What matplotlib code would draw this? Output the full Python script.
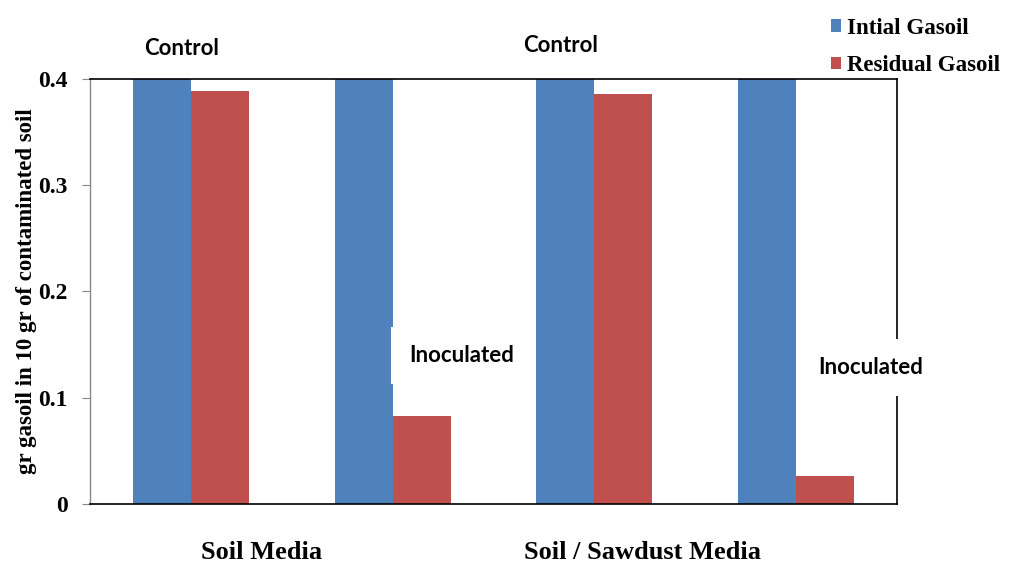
import numpy as np
import matplotlib.pyplot as plt

groups = ['Control', 'Inoculated', 'Control', 'Inoculated']
media = ['Soil Media', 'Soil / Sawdust Media']
initial = [0.4, 0.4, 0.4, 0.4]
residual = [0.389, 0.083, 0.386, 0.026]

blue = '#4F81BD'
red = '#C0504D'
serif = 'Liberation Serif'

fig = plt.figure(figsize=(10.09, 5.63), dpi=100)
ax = fig.add_axes([0.0892, 0.1048, 0.7998, 0.7549])

x = np.arange(len(groups))
w = 0.287
ax.bar(x - w / 2, initial, w, color=blue, label='Intial Gasoil', zorder=2)
ax.bar(x + w / 2, residual, w, color=red, label='Residual Gasoil', zorder=2)

ax.set_xlim(-0.5, 3.5)
ax.set_ylim(0, 0.4)
ax.set_yticks([0, 0.1, 0.2, 0.3, 0.4])
ax.set_yticklabels(['0', '0.1', '0.2', '0.3', '0.4'], fontfamily=serif,
                   fontweight='bold', fontsize=17)
ax.set_xticks([])
ax.tick_params(axis='y', length=6, width=0.8, color='#888888', pad=10)

for side in ['top', 'right', 'bottom']:
    ax.spines[side].set_color('black')
    ax.spines[side].set_linewidth(1.2)
ax.spines['left'].set_color('#888888')
ax.spines['left'].set_linewidth(1.0)

ax.set_ylabel('gr gasoil in 10 gr of contaminated soil', fontfamily=serif,
              fontweight='bold', fontsize=16.5, labelpad=1)

# group labels under the axis
ax.text(0.35, -0.113, media[0], transform=ax.get_xaxis_transform(), ha='center',
        va='center', fontfamily=serif, fontweight='bold', fontsize=19)
ax.text(2.24, -0.113, media[1], transform=ax.get_xaxis_transform(), ha='center',
        va='center', fontfamily=serif, fontweight='bold', fontsize=19)

# annotations
ax.text(-0.045, 0.4285, groups[0], ha='center', va='center', fontfamily='Lato',
        fontweight='bold', fontsize=16, clip_on=False)
ax.text(1.83, 0.4315, groups[2], ha='center', va='center', fontfamily='Lato',
        fontweight='bold', fontsize=16, clip_on=False)
ax.text(1.34, 0.1402, groups[1], ha='center', va='center', fontfamily='Lato',
        fontweight='bold', fontsize=16, clip_on=False, zorder=5,
        bbox=dict(facecolor='white', edgecolor='none', pad=13))
ax.text(3.37, 0.1280, groups[3], ha='center', va='center', fontfamily='Lato',
        fontweight='bold', fontsize=16, clip_on=False, zorder=5,
        bbox=dict(facecolor='white', edgecolor='none', pad=13))

leg = fig.legend(loc='upper left', bbox_to_anchor=(0.803, 1.005), frameon=False,
                 prop={'family': serif, 'weight': 'bold', 'size': 16.5},
                 handlelength=0.45, handleheight=0.45, handletextpad=0.25,
                 labelspacing=0.7)

fig.savefig('out.png', dpi=100)
